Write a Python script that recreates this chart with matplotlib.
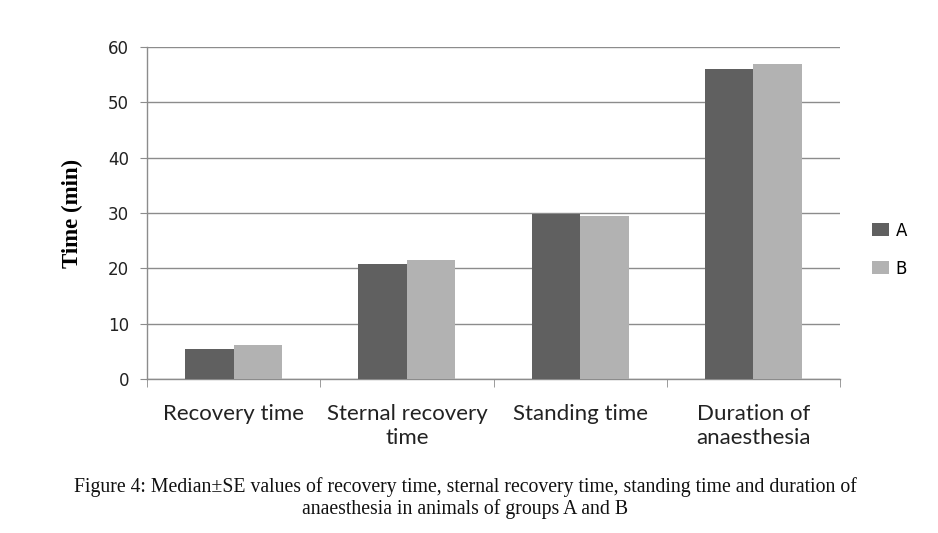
import matplotlib.pyplot as plt
import numpy as np

# Values (minutes)
categories = ["Recovery time", "Sternal recovery\ntime", "Standing time", "Duration of\nanaesthesia"]
group_a = [5.5, 20.8, 29.8, 56.0]
group_b = [6.1, 21.5, 29.4, 56.9]
series_names = ["A", "B"]
y_ticks = [0, 10, 20, 30, 40, 50, 60]

color_a = "#606060"
color_b = "#b2b2b2"
grid_color = "#8c8c8c"

fig = plt.figure(figsize=(9.38, 5.33), dpi=100)
ax = fig.add_axes([147 / 938, 1 - 379 / 533, 693 / 938, 332 / 533])

x = np.arange(len(categories))
w = 0.28
ax.bar(x - w / 2, group_a, width=w, color=color_a, label=series_names[0], zorder=3)
ax.bar(x + w / 2, group_b, width=w, color=color_b, label=series_names[1], zorder=3)

ax.set_xlim(-0.5, len(categories) - 0.5)
ax.set_ylim(0, 60)
ax.set_yticks(y_ticks)
ax.set_yticklabels([str(v) for v in y_ticks], fontsize=12, family="DejaVu Sans", color="#222222")
ax.grid(axis="y", color=grid_color, linewidth=1.0, zorder=0)

ax.set_xticks(x)
ax.set_xticklabels(categories, fontsize=16, family="Lato", color="#222222", linespacing=1.25)
ax.set_xticks(np.arange(-0.5, len(categories)), minor=True)
ax.tick_params(axis="x", which="major", length=0, pad=18)
ax.tick_params(axis="x", which="minor", length=6, color=grid_color, direction="out")
ax.tick_params(axis="y", length=5, color=grid_color, pad=8)

for side in ["top", "right"]:
    ax.spines[side].set_visible(False)
for side in ["left", "bottom"]:
    ax.spines[side].set_color(grid_color)
    ax.spines[side].set_linewidth(1.0)

ax.set_ylabel("Time (min)", family="Liberation Serif", fontweight="bold", fontsize=16.5, labelpad=18)

leg = ax.legend(loc="center left", bbox_to_anchor=(1.025, 0.39), frameon=False,
                prop={"family": "DejaVu Sans", "size": 12},
                handlelength=1.0, handleheight=0.8, handletextpad=0.4, labelspacing=1.2)

fig.text(0.496, 1 - 498 / 533,
         "Figure 4: Median\u00b1SE values of recovery time, sternal recovery time, standing time and duration of\n"
         "anaesthesia in animals of groups A and B",
         ha="center", va="center", family="Liberation Serif", fontsize=14.2, linespacing=1.08,
         color="#111111")

fig.savefig("out.png", dpi=100)
